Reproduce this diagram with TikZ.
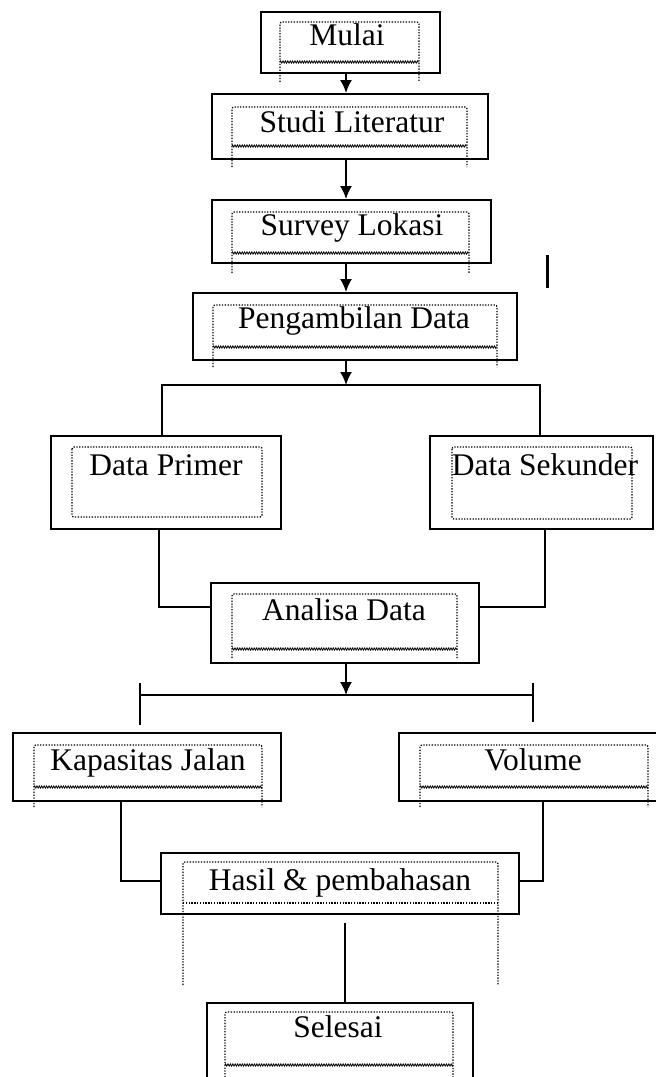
\documentclass[tikz,border=0pt]{standalone}
\usepackage{fontspec}
\setmainfont{Liberation Serif}
\usetikzlibrary{arrows.meta,decorations.pathmorphing}

\begin{document}
\begin{tikzpicture}[x=1pt,y=-1pt,
	box/.style={draw, line width=2pt, inner sep=0pt},
	frame/.style={line width=1.3pt, dash pattern=on 1.3pt off 1.5pt, rounded corners=2pt},
	wavy/.style={line width=0.8pt, decorate, decoration={zigzag, amplitude=1.1pt, segment length=2.4pt}},
	link/.style={line width=1.7pt},
	arr/.style={line width=1.7pt, -{Latex[length=13pt,width=12pt]}},
	txt/.style={inner sep=0pt, anchor=base, font=\fontsize{31.5}{35}\selectfont}]
		\useasboundingbox (0,0) rectangle (656,1077);
		\fill[white] (0,0) rectangle (656,1077);

		\coordinate (axis) at (346,0);

		% kotak utama
		\node[box, minimum width=179pt, minimum height=61pt] (mulai) at (350.5,42.5) {};
		\node[box, minimum width=276pt, minimum height=65pt] (studi) at (350,126.5) {};
		\node[box, minimum width=279pt, minimum height=63pt] (survey) at (351.5,231.5) {};
		\node[box, minimum width=324pt, minimum height=67pt] (ambil) at (355,326.5) {};
		\node[box, minimum width=230pt, minimum height=93pt] (primer) at (166,482.5) {};
		\node[box, minimum width=223pt, minimum height=93pt] (sekunder) at (541.5,482.5) {};
		\node[box, minimum width=268pt, minimum height=80pt] (analisa) at (345,623) {};
		\node[box, minimum width=268pt, minimum height=68pt] (kapasitas) at (147,767) {};
		\node[box, minimum width=265pt, minimum height=68pt] (volume) at (531.5,767) {};
		\node[box, minimum width=358pt, minimum height=61pt] (hasil) at (340,883.5) {};
		\node[box, minimum width=266pt, minimum height=87pt] (selesai) at (340,1046.5) {};

		% bingkai teks bertitik
		\draw[frame] (280,82) -- (280,22) -- (419,22) -- (419,82);
		\draw[wavy] (280,62) -- (419,62);
		\draw[frame] (232,167) -- (232,107) -- (467,107) -- (467,167);
		\draw[wavy] (232,146) -- (467,146);
		\draw[frame] (232,273) -- (232,212) -- (469,212) -- (469,273);
		\draw[wavy] (232,253) -- (469,253);
		\draw[frame] (213,367) -- (213,305) -- (497,305) -- (497,367);
		\draw[wavy] (213,347) -- (497,347);
		\draw[frame] (72,447) rectangle (262,517);
		\draw[frame] (452,447) rectangle (632,519);
		\draw[frame] (232,658) -- (232,594) -- (457,594) -- (457,658);
		\draw[wavy] (232,649) -- (457,649);
		\draw[frame] (34,807) -- (34,745) -- (262,745) -- (262,807);
		\draw[wavy] (34,787) -- (262,787);
		\draw[frame] (420,807) -- (420,745) -- (648,745) -- (648,807);
		\draw[wavy] (420,787) -- (648,787);
		\draw[frame] (183,985) -- (183,862) -- (498,862) -- (498,985);
		\draw[frame] (183,903) -- (498,903);
		\draw[frame] (225,1080) -- (225,1012) -- (453,1012) -- (453,1080);
		\draw[wavy] (225,1065) -- (453,1065);

		% teks
		\node[txt] (tmulai) at (347,45) {Mulai};
		\node[txt] (tstudi) at (352,132) {Studi Literatur};
		\node[txt] (tsurvey) at (352,235) {Survey Lokasi};
		\node[txt] (tambil) at (354,328) {Pengambilan Data};
		\node[txt] (tprimer) at (166,475) {Data Primer};
		\node[txt] (tsekunder) at (545,475) {Data Sekunder};
		\node[txt] (tanalisa) at (344,620) {Analisa Data};
		\node[txt] (tkapasitas) at (148,770) {Kapasitas Jalan};
		\node[txt] (tvolume) at (533,770) {Volume};
		\node[txt] (thasil) at (340,890) {Hasil \& pembahasan};
		\node[txt] (tselesai) at (338,1037) {Selesai};

		% garis tegak tersesat
		\draw[line width=3pt] (547,255) -- (547,288);

		% panah lurus
		\draw[arr] (mulai.south -| axis) -- (studi.north -| axis);
		\draw[arr] (studi.south -| axis) -- (survey.north -| axis);
		\draw[arr] (survey.south -| axis) -- (ambil.north -| axis);

		% cabang data
		\coordinate (splitL) at (162,385);
		\coordinate (splitR) at (540,385);
		\draw[link] (primer.north -| splitL) -- (splitL) -- (splitR) -- (sekunder.north -| splitR);
		\draw[arr] (ambil.south -| axis) -- (axis |- splitL);
		\coordinate (joinL) at (159,607);
		\coordinate (joinR) at (545,607);
		\draw[link] (primer.south -| joinL) -- (joinL) -- (joinL -| analisa.west);
		\draw[link] (sekunder.south -| joinR) -- (joinR) -- (joinR -| analisa.east);

		% cabang hasil
		\coordinate (tickL) at (140,695);
		\coordinate (tickR) at (533,695);
		\draw[link] (tickL) -- (tickR);
		\draw[link] (140,683) -- (140,725);
		\draw[link] (533,683) -- (533,722);
		\draw[arr] (analisa.south -| axis) -- (axis |- tickL);
		\coordinate (joinKL) at (121,881);
		\coordinate (joinKR) at (543,881);
		\draw[link] (kapasitas.south -| joinKL) -- (joinKL) -- (joinKL -| hasil.west);
		\draw[link] (volume.south -| joinKR) -- (joinKR) -- (joinKR -| hasil.east);

		\coordinate (endtop) at (345,923);
		\draw[link] (endtop) -- (endtop |- selesai.north);
	\end{tikzpicture}
\end{document}
